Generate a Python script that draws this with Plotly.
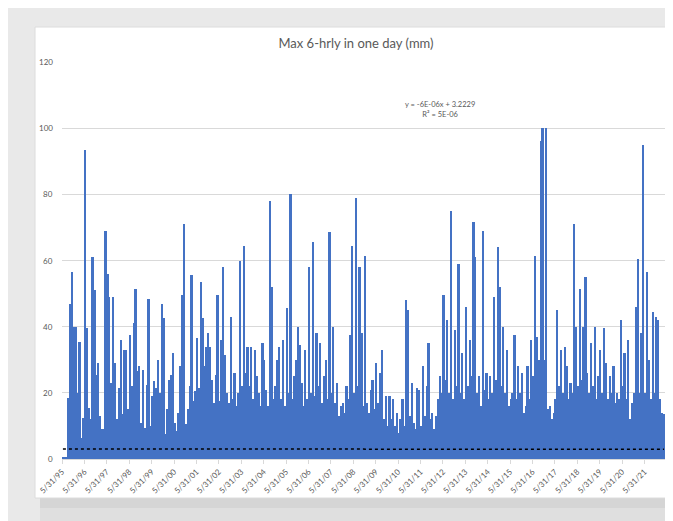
import plotly.graph_objects as go
import pandas as pd

# monthly maxima of the 6-hourly totals, Jun 1995 .. Apr 2022 (mm)
max_6hr_mm = [
    0.5, 0.5, 0.5, 18.5, 47, 56.5, 40, 40, 20, 35.5, 6.5, 12.5,
    93.5, 39.5, 15.5, 12, 61, 51, 25.5, 29, 13, 9, 9, 69,
    56, 49, 23, 49, 29, 12, 21.5, 36, 13.5, 33, 33, 15,
    37.5, 22, 41, 51.5, 26.5, 28, 11, 27, 9.5, 22.5, 48.5, 10,
    19, 23.5, 21.5, 30, 20, 47, 42.5, 7.5, 15, 24, 25.5, 32,
    11, 8.5, 14, 28, 49.5, 71, 10.5, 15, 22, 55.5, 17.5, 20.5,
    36.5, 21.5, 53.5, 42.5, 28, 34, 38, 34, 24, 17, 25.5, 49.5,
    17.5, 36, 58, 31.5, 20, 17, 43, 18, 26, 16, 20, 60,
    22, 64.5, 26, 34, 22, 34, 18, 33, 25, 20, 16, 35,
    30, 21, 16, 78, 52, 18, 22, 30, 34, 18, 36, 16,
    45.5, 20, 80, 18, 25, 30, 40, 34.5, 23, 16, 33, 18,
    58, 20, 65.5, 19, 38, 22, 35, 17, 25, 30, 18, 68.5,
    20, 40, 17, 23, 13, 16, 17, 14, 22, 18, 37.5, 64.5,
    20, 79, 22, 58, 38, 16, 61.5, 17, 14, 21, 24, 15,
    29, 17, 26, 33, 12, 19, 10, 19, 12, 18, 10, 14,
    8, 12, 18, 10, 48, 45, 13, 23, 11, 9, 21.5, 21,
    10, 28, 13, 22, 35, 12, 14, 9, 13, 18, 25, 20,
    49.5, 24, 42, 20, 75, 18, 39, 22, 59, 20, 32, 18,
    46, 22, 36, 25, 71.5, 61, 20, 25, 16, 69, 21, 26,
    18, 25, 20, 49, 24, 64, 52, 22, 40, 20, 33, 16,
    18, 20, 37.5, 18, 28, 20, 26, 14, 16, 28, 18, 36,
    25, 61.5, 37, 30, 96, 100, 30, 100, 15, 16, 12, 14,
    18, 45, 22, 33, 20, 34, 28, 18, 23, 20, 71, 40,
    22, 51.5, 24, 40, 55, 26, 20, 35, 22, 40, 18, 25,
    33, 20, 39.5, 29, 18, 25, 20, 28, 17, 20, 18, 42,
    22, 32, 18, 36, 12, 17, 20, 46, 60.5, 20, 38, 95,
    20, 56.5, 30, 18, 44.5, 20, 43, 42, 18, 14, 13.5,
]

tick_years = list(range(1995, 2022))
tick_labels = ["5/31/%02d" % (y % 100) for y in tick_years]
y_ticks = [0, 20, 40, 60, 80, 100, 120]

# Excel linear trendline shown on the chart
trend_slope = -6e-06
trend_intercept = 3.2229
trend_label = "y = -6E-06x + 3.2229<br>R² = 5E-06"

months = pd.date_range("1995-06-01", periods=len(max_6hr_mm), freq="MS") + pd.Timedelta(days=14)
excel_serial = (months - pd.Timestamp("1899-12-30")).days
trend = trend_intercept + trend_slope * excel_serial

BLUE = "#4472C4"
GREY_TXT = "#595959"

# the page body adds an 8px offset, so the figure origin sits at (8, 8) on screen
OFF = 8
W, H = 673 - OFF, 521 - OFF


def px_x(p):
    # screen x -> paper x (plot area spans 62..665 on screen)
    return (p - 62) / 603


def px_y(p):
    # screen y -> paper y (plot area spans 62..459 on screen)
    return (459 - p) / 397


fig = go.Figure()

fig.add_trace(go.Bar(
    x=months,
    y=max_6hr_mm,
    marker=dict(color=BLUE, line=dict(width=0)),
    name="Max 6-hrly",
))

fig.add_trace(go.Scatter(
    x=months,
    y=trend,
    mode="lines",
    line=dict(color="black", width=1.5, dash="dot"),
    name="Linear trend",
))

shapes = [
    # shadow under the card
    dict(type="rect", xref="paper", yref="paper", layer="below",
         x0=px_x(40), x1=px_x(690), y0=px_y(508), y1=px_y(498),
         fillcolor="#d5d5d5", line=dict(width=0)),
    dict(type="rect", xref="paper", yref="paper", layer="below",
         x0=px_x(40), x1=px_x(690), y0=px_y(540), y1=px_y(508),
         fillcolor="#dfdfdf", line=dict(width=0)),
    # chart card
    dict(type="rect", xref="paper", yref="paper", layer="below",
         x0=px_x(35), x1=px_x(690), y0=px_y(498), y1=px_y(27),
         fillcolor="white", line=dict(color="#dcdcdc", width=1)),
]

annotations = [dict(
    text=trend_label,
    xref="paper", yref="paper",
    x=px_x(440), y=px_y(97.5),
    showarrow=False,
    font=dict(family="Lato", size=7.5, color=GREY_TXT),
    align="center",
)]
# y tick labels, set a little closer to the plot than plotly's default
for v in y_ticks:
    annotations.append(dict(
        text=str(v), xref="paper", yref="y", x=px_x(55), y=v,
        xanchor="right", yanchor="middle", showarrow=False,
        font=dict(family="Lato", size=8, color=GREY_TXT),
    ))

fig.update_layout(
    width=W,
    height=H,
    margin=dict(l=62 - OFF, r=W + OFF - 665, t=62 - OFF, b=H + OFF - 459, pad=0),
    paper_bgcolor="#e9e9e9",
    plot_bgcolor="white",
    showlegend=False,
    bargap=0,
    font=dict(family="Lato", color=GREY_TXT),
    title=dict(
        text="Max 6-hrly in one day (mm)",
        x=px_x(356), xref="paper", xanchor="center",
        y=1 - (43 - OFF) / H, yref="container", yanchor="middle",
        font=dict(family="Lato", size=13, color=GREY_TXT),
    ),
    xaxis=dict(
        type="date",
        range=["1995-05-31", "2022-05-01"],
        tickvals=["%d-05-31" % y for y in tick_years],
        ticktext=tick_labels,
        tickangle=-45,
        tickfont=dict(size=8, color=GREY_TXT),
        ticks="outside",
        ticklen=4,
        tickcolor="#d9d9d9",
        showgrid=False,
        showline=True,
        linecolor="#d9d9d9",
        zeroline=False,
        automargin=False,
    ),
    yaxis=dict(
        range=[0, 120],
        tickvals=y_ticks,
        showticklabels=False,
        gridcolor="#d9d9d9",
        gridwidth=1,
        zeroline=False,
        showline=False,
        ticks="",
        automargin=False,
    ),
    shapes=shapes,
    annotations=annotations,
)

fig.write_html(
    "out.html",
    post_script="document.documentElement.style.overflow = 'hidden';"
                "document.body.style.overflow = 'hidden';",
)
